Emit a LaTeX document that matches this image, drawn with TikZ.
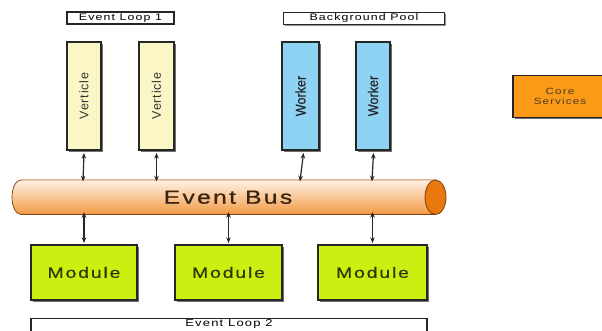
\documentclass[tikz,border=0pt]{standalone}
\usepackage{fontspec}
\setmainfont{Liberation Sans}
% a widened, letter-spaced face for the labels
\newfontfamily\widesans[FakeStretch=1.3, LetterSpace=12]{Liberation Sans}
\newfontfamily\widesansheavy[FakeStretch=1.3, LetterSpace=12, FakeBold=0.7]{Liberation Sans}
\newfontfamily\tallsans[FakeStretch=0.9, FakeBold=0.5]{Liberation Sans}
\newfontfamily\spacedsans[LetterSpace=6]{Liberation Sans}
\usetikzlibrary{shadows,arrows.meta}

\definecolor{vertfill}{HTML}{FBF6C6}
\definecolor{workfill}{HTML}{8ED2F4}
\definecolor{modfill}{HTML}{CCEE11}
\definecolor{corefill}{HTML}{FA9A16}
\definecolor{busdark}{HTML}{F29A45}
\definecolor{buslight}{HTML}{FFF1E4}
\definecolor{busend}{HTML}{E8780E}
\definecolor{busline}{HTML}{7A4010}
\definecolor{textbrown}{HTML}{3A2410}
\definecolor{modtext}{HTML}{2E3A08}

\tikzset{
  boxbase/.style={draw=black!85, line width=1.1pt, inner sep=0pt,
    drop shadow={shadow xshift=1.6pt, shadow yshift=-2pt, fill=black!70, opacity=0.8}},
  labelbar/.style={draw=black!85, line width=1.1pt, fill=white, inner sep=0pt,
    font=\widesans\fontsize{9.5}{10}\selectfont, minimum height=12pt,
    drop shadow={shadow xshift=1.2pt, shadow yshift=-1.4pt, fill=black!60, opacity=0.7}},
  vbox/.style={boxbase, fill=vertfill, minimum height=108pt,
    font=\spacedsans\fontsize{12.5}{14}\selectfont, text=black!80},
  wbox/.style={boxbase, fill=workfill, minimum height=108pt,
    font=\tallsans\fontsize{14}{15}\selectfont, text=black!85},
  modbox/.style={boxbase, fill=modfill, minimum height=55pt,
    font=\widesansheavy\fontsize{15}{17}\selectfont, text=modtext},
  link/.style={<->, >={Stealth[length=5.5pt,width=4.6pt]}, line width=1.2pt, black!85}
}

\begin{document}
\begin{tikzpicture}[x=1pt,y=-1pt]
\useasboundingbox[fill=white] (0,0) rectangle (602,331);

% group labels
\node[labelbar, minimum width=107pt] (loop1) at (120.5,18) {Event Loop 1};
\node[labelbar, minimum width=161pt] (pool) at (364,18.5) {Background Pool};

% event loop 1 verticles
\node[vbox, minimum width=34pt] (v1) at (84,96) {\rotatebox{90}{Verticle}};
\node[vbox, minimum width=35pt] (v2) at (156.5,96) {\rotatebox{90}{Verticle}};

% background pool workers
\node[wbox, minimum width=37pt] (w1) at (300.5,96) {\rotatebox{90}{Worker}};
\node[wbox, minimum width=34pt] (w2) at (373,96) {\rotatebox{90}{Worker}};

% core services
\node[boxbase, fill=corefill, minimum width=94pt, minimum height=42pt,
      align=center, text=textbrown!90, font=\widesans\fontsize{9}{9.5}\selectfont]
      (core) at (560,96.5) {Core\\Services};

% event bus body with shaded tube
\shade[top color=buslight, bottom color=busdark, draw=busline, line width=0.7pt]
  (21,180) -- (435.5,180) -- (435.5,214.5) -- (21,214.5)
  arc[start angle=270, end angle=90, x radius=9pt, y radius=17.25pt] -- cycle;
\draw[busdark!55!white, line width=1pt] (21.5,180.6) -- (435,180.6);
\fill[busend, draw=busline, line width=0.8pt] (435.5,197.25) ellipse[x radius=10.5pt, y radius=17.25pt];
\node[minimum width=410pt, minimum height=34.5pt, inner sep=0pt,
      font=\widesansheavy\fontsize{19}{21}\selectfont, text=textbrown] (bus) at (228,197.25) {Event Bus};

% modules
\node[modbox, minimum width=106pt] (m1) at (84,272.5) {Module};
\node[modbox, minimum width=107pt] (m2) at (228.5,272.5) {Module};
\node[modbox, minimum width=109pt] (m3) at (372.5,272.5) {Module};

% event loop 2 bar, running off the bottom edge
\node[labelbar, anchor=north, minimum width=396pt, minimum height=16pt,
      font=\widesans\fontsize{10}{10}\selectfont,
      text height=6pt, text depth=6pt, inner ysep=2pt] (loop2) at (229,318) {Event Loop 2};

% links to the bus
\draw[link] ([yshift=-2.5pt]v1.south) -- ([yshift=-1.5pt,xshift=-1pt]v1.south |- bus.north);
\draw[link] ([yshift=-2.5pt]v2.south) -- ([yshift=-1.5pt]v2.south |- bus.north);
\draw[link] ([yshift=-2.5pt,xshift=3pt]w1.south) -- ([yshift=-1.5pt,xshift=-0.5pt]w1.south |- bus.north);
\draw[link] ([yshift=-2.5pt,xshift=0.5pt]w2.south) -- ([yshift=-1.5pt,xshift=-1pt]w2.south |- bus.north);

\draw[link] ([yshift=2.5pt]m1.north |- bus.south) -- ([yshift=1.5pt]m1.north);
\draw[link] ([yshift=2.5pt]m2.north |- bus.south) -- ([yshift=1.5pt]m2.north);
\draw[link] ([yshift=2.5pt]m3.north |- bus.south) -- ([yshift=1.5pt]m3.north);
\end{tikzpicture}
\end{document}
